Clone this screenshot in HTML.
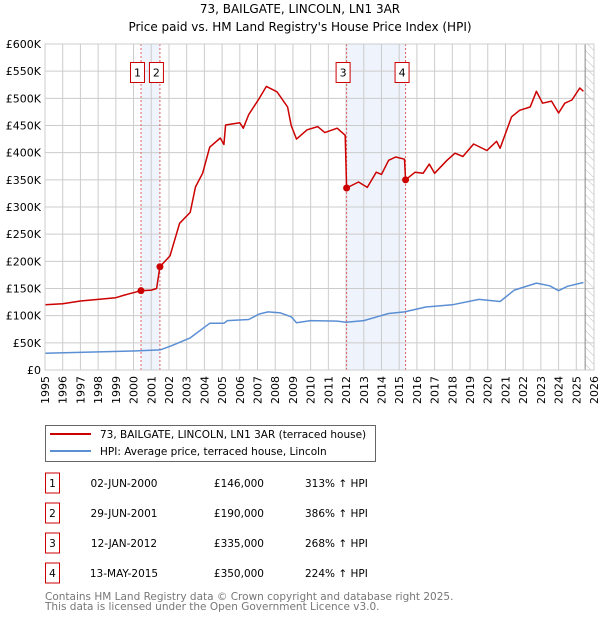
<!DOCTYPE html>
<html><head><meta charset="utf-8"><style>
body{margin:0;background:#fff;}
svg text{font-family:"DejaVu Sans","Liberation Sans",sans-serif;}
</style></head><body>
<svg id="c" width="600" height="620" xmlns="http://www.w3.org/2000/svg">
<defs><pattern id="hatch" width="6" height="6" patternUnits="userSpaceOnUse" patternTransform="rotate(-45)"><line x1="0" y1="0" x2="0" y2="6" stroke="#bbb" stroke-width="1"/></pattern></defs>
<text x="300" y="13" text-anchor="middle" font-size="12">73, BAILGATE, LINCOLN, LN1 3AR</text>
<text x="300" y="31" text-anchor="middle" font-size="12">Price paid vs. HM Land Registry's House Price Index (HPI)</text>
<g id="plot"></g>
<g>
<rect x="45.5" y="425.5" width="330" height="36" fill="#fff" stroke="#666"/>
<line x1="50" y1="434" x2="91" y2="434" stroke="#cc0000" stroke-width="2"/>
<text x="100" y="438" font-size="10.5">73, BAILGATE, LINCOLN, LN1 3AR (terraced house)</text>
<line x1="50" y1="451" x2="91" y2="451" stroke="#5b8fd4" stroke-width="2"/>
<text x="100" y="455" font-size="10.5">HPI: Average price, terraced house, Lincoln</text>
</g>
<g id="table" font-size="10.5"></g>
<text x="45" y="600" font-size="10.5" fill="#777">Contains HM Land Registry data © Crown copyright and database right 2025.</text>
<text x="45" y="610" font-size="10.5" fill="#777">This data is licensed under the Open Government Licence v3.0.</text>
</svg>
<script>
const yearTicks=[1995,1996,1997,1998,1999,2000,2001,2002,2003,2004,2005,2006,2007,2008,2009,2010,2011,2012,2013,2014,2015,2016,2017,2018,2019,2020,2021,2022,2023,2024,2025,2026];
const priceTicks=[0,50,100,150,200,250,300,350,400,450,500,550,600];
const priceTickLabels=["£0","£50K","£100K","£150K","£200K","£250K","£300K","£350K","£400K","£450K","£500K","£550K","£600K"];
const redYears=[1995,1996,1997,1998,1999,1999.5,2000.42,2001.0,2001.3,2001.49,2002.06,2002.6,2003.2,2003.5,2003.9,2004.3,2004.9,2005.1,2005.2,2006.0,2006.2,2006.5,2007.1,2007.5,2008.1,2008.7,2008.9,2009.2,2009.8,2010.4,2010.8,2011.5,2011.95,2012.03,2012.7,2013.2,2013.7,2014.0,2014.4,2014.8,2015.3,2015.36,2015.9,2016.35,2016.7,2017.0,2017.7,2018.15,2018.6,2019.2,2019.95,2020.5,2020.7,2021.35,2021.8,2022.4,2022.75,2023.1,2023.6,2024.0,2024.35,2024.75,2025.2,2025.4];
const redValues=[120,122,127,130,133,138,146,147,150,190,210,270,290,337,362,410,427,415,451,455,445,470,500,522,512,484,450,425,442,448,437,445,432,335,346,336,364,360,386,392,388,350,364,362,379,362,386,399,393,416,404,421,408,466,478,484,513,491,495,473,491,497,519,513];
const hpiYears=[1995,2000,2001.5,2002.1,2003.2,2004.3,2005.1,2005.3,2006.5,2007.1,2007.6,2008.3,2008.9,2009.2,2010,2011.5,2012.0,2013,2014.4,2015.3,2016.5,2018,2019.5,2020.7,2021.5,2022.75,2023.5,2024,2024.5,2025.4];
const hpiValues=[31,35,37,44,59,86,86,91,93,103,107,105,98,87,91,90,88,91,104,107,116,120,130,126,147,160,155,146,154,161];
const saleLabels=["1","2","3","4"];
const saleYears=[2000.42,2001.49,2012.03,2015.36];
const salePrices=[146,190,335,350];
const saleDates=["02-JUN-2000","29-JUN-2001","12-JAN-2012","13-MAY-2015"];
const salePriceText=["£146,000","£190,000","£335,000","£350,000"];
const saleHpiText=["313% ↑ HPI","386% ↑ HPI","268% ↑ HPI","224% ↑ HPI"];

const X0=45,X1=594,Y0=370,Y1=44;
const xs=y=>X0+(y-1995)/(2026-1995)*(X1-X0);
const ys=v=>Y0-v/600*(Y0-Y1);
const NS="http://www.w3.org/2000/svg";
function mk(tag,attrs,parent,txt){const e=document.createElementNS(NS,tag);for(const k in attrs)e.setAttribute(k,attrs[k]);if(txt!==undefined)e.textContent=txt;parent.appendChild(e);return e;}
const plot=document.getElementById('plot');
// shaded bands
for(let i=0;i<saleYears.length;i+=2){
  const b=mk('rect',{x:xs(saleYears[i]),y:Y1,width:xs(saleYears[i+1])-xs(saleYears[i]),height:Y0-Y1,fill:'#eef3fc'},plot);
  
  
}
// hatch future
const h=mk('rect',{x:xs(2025.5),y:Y1,width:X1-xs(2025.5),height:Y0-Y1,fill:'url(#hatch)'},plot);


// grid
yearTicks.forEach(y=>{
  const l=mk('line',{x1:xs(y),x2:xs(y),y1:Y1,y2:Y0,stroke:'#ccc','stroke-width':1},plot);
  
  
  const t=mk('text',{x:0,y:0,'font-size':11,'text-anchor':'end',transform:`translate(${xs(y)+4},${Y0+6}) rotate(-90)`},plot,String(y));
  
  
});
priceTicks.forEach((v,i)=>{
  const l=mk('line',{x1:X0,x2:X1,y1:ys(v),y2:ys(v),stroke:'#ccc','stroke-width':1},plot);
  
  
  const t=mk('text',{x:41,y:ys(v)+4,'font-size':11,'text-anchor':'end'},plot,priceTickLabels[i]);
  
  
});
const vl=mk('line',{x1:xs(2025.5),x2:xs(2025.5),y1:Y1,y2:Y0,stroke:'#888','stroke-width':1},plot);


// sale lines
saleYears.forEach((y,i)=>{
  const l=mk('line',{x1:xs(y),x2:xs(y),y1:Y1,y2:Y0,stroke:'#e06060','stroke-width':1,'stroke-dasharray':'2,2'},plot);
  
  
});
function line(xa,va,color,name){
  const d=xa.map((x,i)=>(i?'L':'M')+xs(x).toFixed(1)+','+ys(va[i]).toFixed(1)).join('');
  const p=mk('path',{d:d,fill:'none',stroke:color,'stroke-width':1.5,'stroke-linejoin':'round'},plot);
  
  
}
line(hpiYears,hpiValues,'#5b8fd4','hpi-line');
line(redYears,redValues,'#cc0000','property-price-line');
saleYears.forEach((y,i)=>{
  const c=mk('circle',{cx:xs(y),cy:ys(salePrices[i]),r:3.5,fill:'#cc0000'},plot);
  
  
  const g=mk('g',{},plot);
  
  
  mk('rect',{x:xs(y)-10.5,y:62.5,width:14,height:20,fill:'#fff',stroke:'#cc0000'},g);
  mk('text',{x:xs(y)-3.5,y:76.5,'font-size':11,'text-anchor':'middle'},g,saleLabels[i]);
});
mk('rect',{x:X0,y:Y1,width:X1-X0,height:Y0-Y1,fill:'none',stroke:'#ccc'},plot);
// table
const tb=document.getElementById('table');
saleYears.forEach((y,i)=>{
  const cy=483+i*30;
  const g=mk('g',{},tb);
  
  
  mk('rect',{x:45.5,y:cy-10,width:14,height:20,fill:'#fff',stroke:'#cc0000'},g);
  mk('text',{x:52.5,y:cy+4,'text-anchor':'middle'},g,saleLabels[i]);
  mk('text',{x:124,y:cy+4,'text-anchor':'middle'},g,saleDates[i]);
  mk('text',{x:264,y:cy+4,'text-anchor':'end'},g,salePriceText[i]);
  mk('text',{x:305,y:cy+4},g,saleHpiText[i]);
});
</script>
</body></html>
